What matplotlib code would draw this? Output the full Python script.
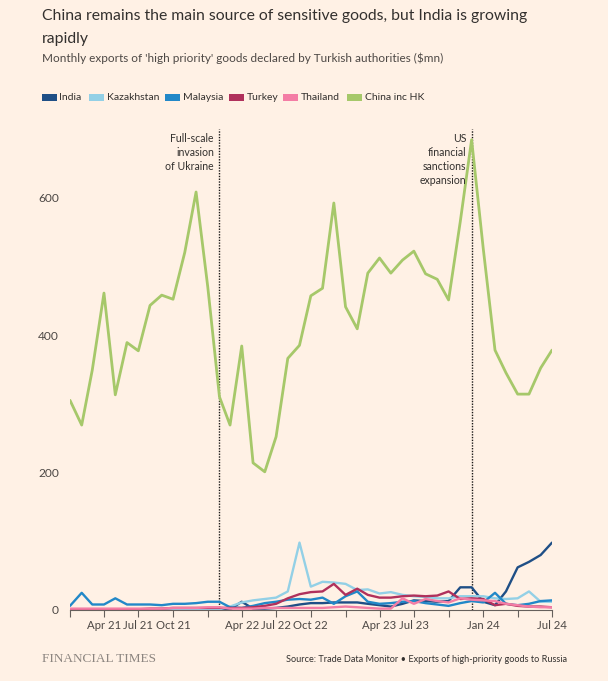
import pandas as pd
import matplotlib
matplotlib.use("Agg")
import matplotlib.pyplot as plt
from matplotlib.patches import Rectangle

# Monthly exports of 'high priority' goods ($mn), Jan 2021 - Jul 2024
months = pd.date_range("2021-01-01", "2024-07-01", freq="MS")

india = [1, 1, 1, 1, 1, 1, 1, 1, 1, 1, 1, 1,
         1, 1, 1, 12, 2, 2, 3, 5, 8, 10, 10, 11,
         11, 11, 9, 7, 5, 9, 14, 13, 12, 13, 33, 33,
         12, 7, 27, 62, 70, 80, 98]
kazakhstan = [1, 1, 1, 1, 1, 1, 1, 1, 1, 1, 1, 1,
              1, 1, 5, 11, 14, 16, 18, 27, 98, 34, 41, 40,
              38, 29, 30, 24, 26, 22, 20, 19, 17, 17, 20, 20,
              20, 17, 16, 17, 27, 12, 12]
malaysia = [6, 25, 8, 8, 17, 8, 8, 8, 7, 9, 9, 10,
            12, 12, 4, 3, 6, 10, 12, 15, 16, 15, 18, 9,
            20, 27, 12, 9, 10, 12, 13, 10, 8, 6, 10, 13,
            11, 25, 9, 7, 9, 13, 14]
turkey = [1, 1, 1, 1, 1, 1, 1, 2, 2, 3, 3, 3,
          3, 3, 3, 3, 4, 6, 9, 17, 23, 26, 27, 38,
          22, 31, 22, 18, 18, 20, 21, 20, 21, 27, 16, 17,
          16, 7, 9, 6, 5, 5, 4]
thailand = [2, 2, 2, 2, 2, 2, 2, 2, 2, 3, 3, 3,
            4, 4, 2, 2, 2, 3, 3, 3, 3, 3, 3, 4,
            5, 4, 3, 2, 2, 17, 9, 16, 13, 11, 17, 15,
            14, 13, 9, 7, 5, 4, 4]
china = [305, 269, 349, 461, 313, 389, 377, 443, 458, 452, 520, 608,
         470, 310, 269, 384, 214, 201, 252, 366, 385, 457, 468, 592,
         441, 409, 490, 512, 490, 509, 522, 489, 481, 451, 565, 684,
         525, 378, 345, 314, 314, 352, 378]

series_names = ["India", "Kazakhstan", "Malaysia", "Turkey", "Thailand", "China inc HK"]
series_values = [india, kazakhstan, malaysia, turkey, thailand, china]
colors = ["#1f4f86", "#93d0e6", "#2288c8", "#b0315c", "#f47da5", "#a6c86a"]

tick_dates = pd.date_range("2021-01-01", "2024-07-01", freq="QS")
tick_labels = ["", "Apr 21", "Jul 21", "Oct 21", "", "Apr 22", "Jul 22", "Oct 22",
               "", "Apr 23", "Jul 23", "", "Jan 24", "", "Jul 24"]

events = [pd.Timestamp("2022-02-01"), pd.Timestamp("2023-12-01")]
event_labels = ["Full-scale\ninvasion\nof Ukraine", "US\nfinancial\nsanctions\nexpansion"]

bg = "#fff1e5"
txt = "#33302e"
plt.rcParams["font.family"] = ["Lato", "DejaVu Sans"]

W, H = 608, 681
fig = plt.figure(figsize=(W / 100, H / 100), dpi=100, facecolor=bg)
ax = fig.add_axes([70 / W, 71 / H, 482 / W, 481.25 / H], facecolor=bg)

for name, vals, c in zip(series_names, series_values, colors):
    lw = 2.0 if name == "China inc HK" else 1.7
    ax.plot(months, vals, color=c, linewidth=lw, solid_joinstyle="round",
            solid_capstyle="round", zorder=3)

for d, lab in zip(events, event_labels):
    ax.axvline(d, color="#1a1817", linestyle=(0, (1, 1)), linewidth=1.0, zorder=2)
    ax.annotate(lab, xy=(d, 1), xycoords=("data", "axes fraction"),
                xytext=(-4, -3), textcoords="offset points",
                ha="right", va="top", fontsize=7.6, color=txt, linespacing=1.35)

ax.set_xlim(months[0], months[-1])
ax.set_ylim(0, 700)
ax.set_yticks([0, 200, 400, 600])
ax.set_xticks(tick_dates)
ax.set_xticklabels(tick_labels)
ax.tick_params(axis="y", length=0, pad=8, labelsize=8.6, labelcolor="#4d4845")
ax.tick_params(axis="x", length=5, width=0.8, color="#66605c", pad=2,
               labelsize=8.2, labelcolor="#4d4845")

for s in ["top", "right", "left"]:
    ax.spines[s].set_visible(False)
ax.spines["bottom"].set_color("#66605c")
ax.spines["bottom"].set_linewidth(0.8)

# title and subtitle
fig.text(42 / W, 1 - 16 / H, "China remains the main source of sensitive goods, but India is growing",
         fontsize=11.3, color=txt, va="center", ha="left")
fig.text(42 / W, 1 - 39 / H, "rapidly", fontsize=11.3, color=txt, va="center", ha="left")
fig.text(42 / W, 1 - 58 / H,
         "Monthly exports of 'high priority' goods declared by Turkish authorities ($mn)",
         fontsize=8.5, color="#4d4845", va="center", ha="left")

# legend: coloured keys with labels
key_x = [42, 89, 165, 229, 283, 347]
for x0, name, c in zip(key_x, series_names, colors):
    fig.patches.append(Rectangle((x0 / W, 1 - 100.5 / H), 15 / W, 7 / H,
                                 transform=fig.transFigure, facecolor=c, edgecolor="none"))
    fig.text((x0 + 17.5) / W, 1 - 97 / H, name, fontsize=7.5, color=txt,
             va="center", ha="left")

# footer
fig.text(42 / W, 1 - 659 / H, "FINANCIAL TIMES", family="Liberation Serif",
         fontsize=9.5, color="#8c8580", va="center", ha="left")
fig.text(567 / W, 1 - 659 / H,
         "Source: Trade Data Monitor \u2022 Exports of high-priority goods to Russia",
         fontsize=6.6, color=txt, va="center", ha="right")

fig.savefig("out.png", dpi=100, facecolor=bg)
